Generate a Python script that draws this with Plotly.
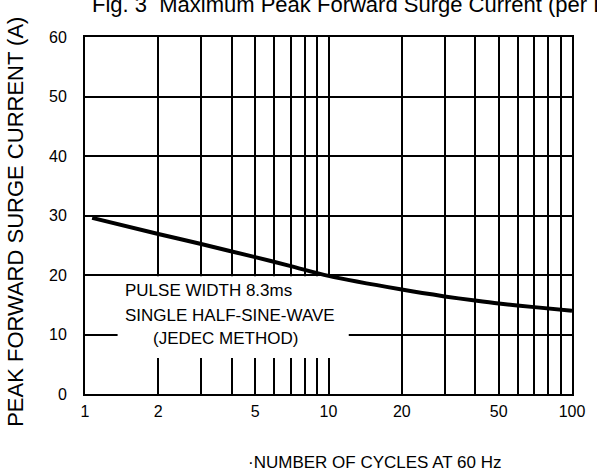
import plotly.graph_objects as go

# ---- data ----
cycles = [1.07, 2, 3, 5, 7, 10, 20, 30, 40, 50, 70, 100]
surge_current = [29.6, 26.9, 25.2, 23.0, 21.5, 19.85, 17.55, 16.4, 15.7, 15.2, 14.6, 14.0]

x_grid_vals = [1, 2, 3, 4, 5, 6, 7, 8, 9, 10, 20, 30, 40, 50, 60, 70, 80, 90, 100]
x_tick_text = ["1", "2", "", "", "5", "", "", "", "", "10", "20", "", "", "50", "", "", "", "", "100"]
y_tick_vals = [0, 10, 20, 30, 40, 50, 60]

title_text = "Fig. 3  Maximum Peak Forward Surge Current (per Leg)"
x_title = "\u00b7NUMBER OF CYCLES AT 60 Hz"
y_title = "PEAK FORWARD SURGE CURRENT (A)"
note_lines = ["PULSE WIDTH 8.3ms", "SINGLE HALF-SINE-WAVE", "(JEDEC METHOD)"]

FONT = "Liberation Sans, Arial, sans-serif"

fig = go.Figure()
fig.add_trace(go.Scatter(
    x=cycles, y=surge_current, mode="lines",
    line=dict(color="black", width=4, shape="spline", smoothing=0.8),
    showlegend=False, hoverinfo="skip",
))

W, H = 597, 474
L, R, T, B = 85, 19, 37, 80
pw, ph = W - L - R, H - T - B

def px(xp):
    return (xp - L) / pw

def py(yp):
    return (H - B - yp) / ph

# note box extent (data units, log x)
box_x = [10 ** ((118 - L) / 246.5), 10 ** ((352 - L) / 246.5)]
box_y = [6.05, 19.8]

fig.update_layout(
    width=W, height=H,
    margin=dict(l=L, r=R, t=T, b=B),
    paper_bgcolor="white", plot_bgcolor="white",
    font=dict(family=FONT, color="black", size=16),
    xaxis=dict(
        type="log", range=[0, 2],
        tickvals=x_grid_vals, ticktext=x_tick_text,
        showgrid=True, gridcolor="black", gridwidth=2,
        showline=True, linecolor="black", linewidth=2, mirror=True,
        ticks="", ticklabelstandoff=2,
        tickfont=dict(size=16),
        zeroline=False,
    ),
    yaxis=dict(
        range=[0, 60], tickvals=y_tick_vals,
        showgrid=True, gridcolor="black", gridwidth=2,
        showline=True, linecolor="black", linewidth=2, mirror=True,
        ticks="", ticklabelstandoff=13,
        tickfont=dict(size=16),
        zeroline=False,
    ),
    shapes=[dict(
        type="rect", xref="x", yref="y",
        x0=box_x[0], x1=box_x[1], y0=box_y[0], y1=box_y[1],
        fillcolor="white", line=dict(width=0), layer="between",
    )],
)

ann = []
ann.append(dict(text=title_text, xref="paper", yref="paper", x=px(90), y=py(4),
                xanchor="left", yanchor="middle", showarrow=False,
                font=dict(size=22, family=FONT)))
ann.append(dict(text=x_title, xref="paper", yref="paper", x=px(378), y=py(462),
                xanchor="center", yanchor="middle", showarrow=False,
                font=dict(size=17, family=FONT)))
ann.append(dict(text=y_title, xref="paper", yref="paper", x=px(15), y=py(222),
                xanchor="center", yanchor="middle", showarrow=False, textangle=-90,
                font=dict(size=22, family=FONT)))
note_pos = [(123, 290), (123, 315), (152, 338)]
for t, (xx, yy) in zip(note_lines, note_pos):
    ann.append(dict(text=t, xref="paper", yref="paper", x=px(xx), y=py(yy),
                    xanchor="left", yanchor="middle", showarrow=False,
                    font=dict(size=17, family=FONT)))
fig.update_layout(annotations=ann)

fig.write_html("out.html", config={"displayModeBar": False},
               post_script="document.body.style.margin='0px';")
